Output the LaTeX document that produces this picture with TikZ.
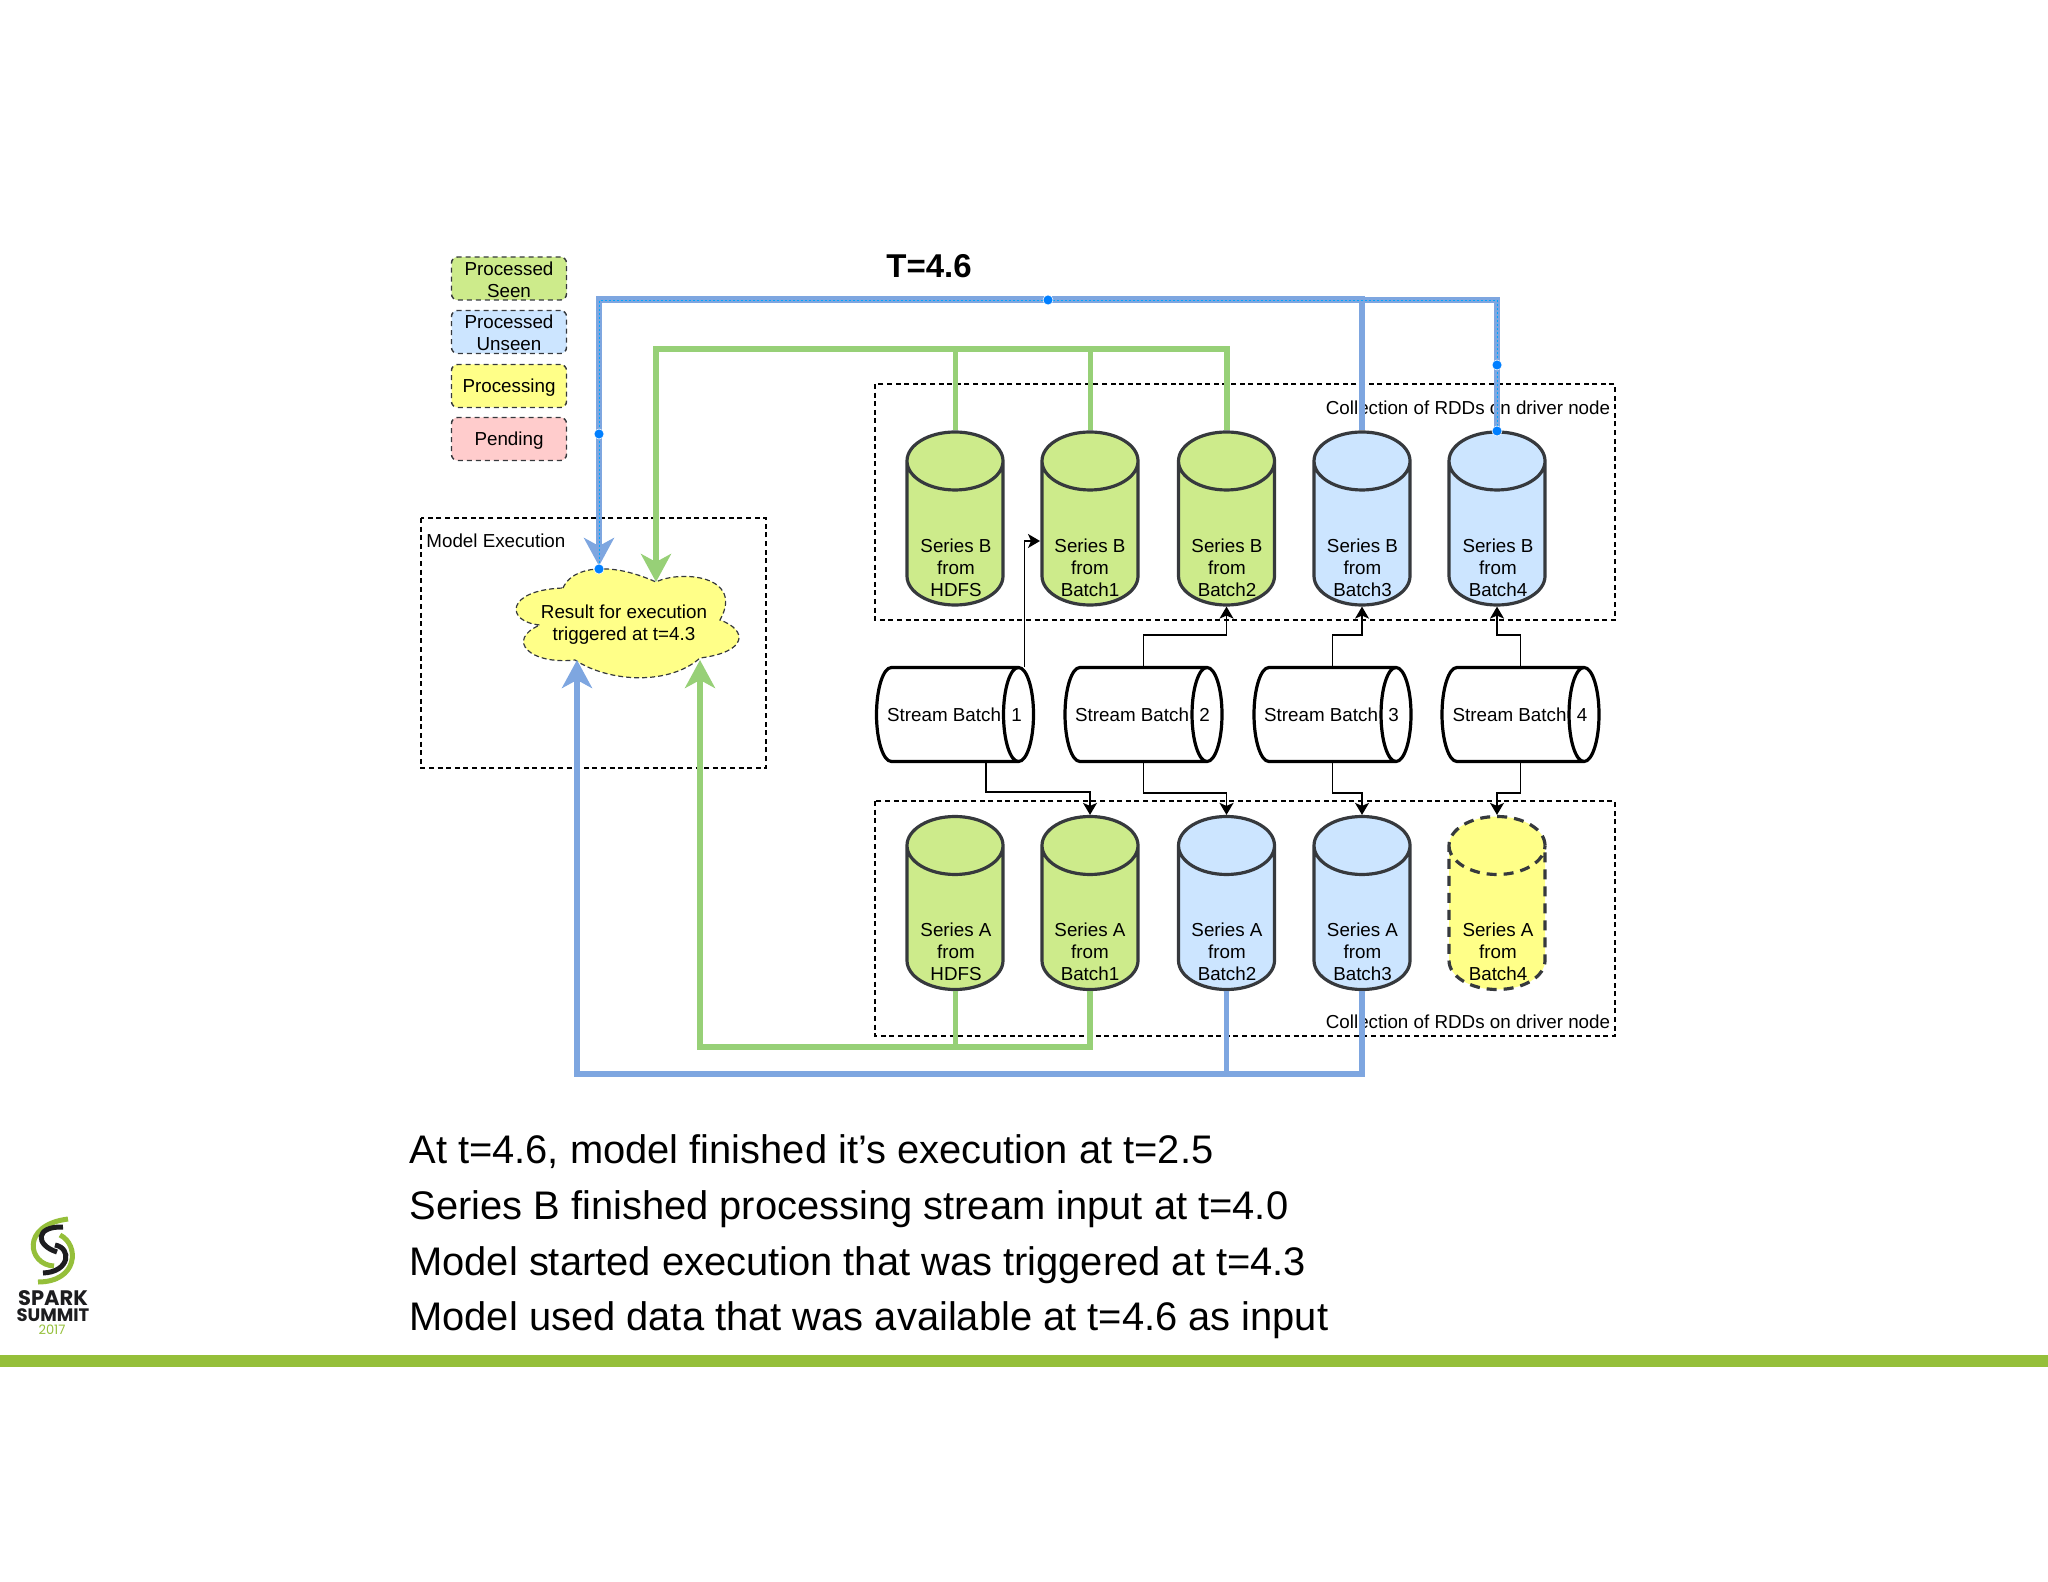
\documentclass[tikz,border=0pt]{standalone}
\usepackage{fontspec}
\setmainfont{Liberation Sans}
\newfontfamily\logofont{Poppins}
\usetikzlibrary{shapes.geometric,arrows.meta}

\definecolor{seenfill}{HTML}{CDEB8B}
\definecolor{unseenfill}{HTML}{CCE5FF}
\definecolor{procfill}{HTML}{FFFF88}
\definecolor{pendfill}{HTML}{FFCCCC}
\definecolor{edgegrey}{HTML}{36393D}
\definecolor{greenline}{HTML}{97D077}
\definecolor{blueline}{HTML}{7EA6E0}
\definecolor{pickblue}{HTML}{007FFF}
\definecolor{barcolor}{HTML}{95BF3A}
\definecolor{logodark}{HTML}{1D1D1F}

\tikzset{
    small/.style={inner sep=0pt,align=center,font=\fontsize{9.4}{11}\selectfont},
    legend/.style={small,rounded corners=3pt,draw=edgegrey,line width=0.7pt,
        dash pattern=on 2.5pt off 2pt,minimum width=57.5pt,minimum height=21.5pt},
    frame/.style={draw=black,line width=0.6pt,dash pattern=on 2.5pt off 1.8pt},
    rdd/.style={cylinder,shape border rotate=90,aspect=0.604,anchor=shape center,
        draw=edgegrey,line width=1.6pt,cylinder uses custom fill,inner sep=24pt,
        minimum width=48pt,minimum height=86.5pt},
    seen/.style={rdd,cylinder body fill=seenfill,cylinder end fill=seenfill},
    unseen/.style={rdd,cylinder body fill=unseenfill,cylinder end fill=unseenfill},
    running/.style={rdd,dash pattern=on 5pt off 3.5pt,cylinder body fill=procfill,cylinder end fill=procfill},
    batch/.style={cylinder,aspect=0.319,anchor=shape center,draw=black,line width=1.6pt,
        inner sep=23.5pt,minimum width=47pt,minimum height=78.5pt},
    link/.style={draw=black,line width=0.7pt,-{Stealth[length=6pt,width=7pt,inset=1.5pt]}},
    greenpipe/.style={draw=greenline,line width=3pt,line join=miter},
    bluepipe/.style={draw=blueline,line width=3pt,line join=miter},
    bighead/.style={-{Stealth[length=14pt,width=15pt,inset=4pt]}},
    picked/.style={draw=pickblue!70!cyan,line width=0.35pt,dash pattern=on 1pt off 1pt},
    pickdot/.style={circle,fill=pickblue,draw=white,line width=0.3pt,inner sep=0pt,minimum size=5pt},
    slidetext/.style={anchor=west,inner sep=0pt,font=\fontsize{19.94}{24}\selectfont},
}

\begin{document}
\begin{tikzpicture}[x=0.5pt,y=-0.5pt]
    \useasboundingbox (0,0) rectangle (2048,1582);

    % legend
    \node[legend,fill=seenfill,text height=18.7pt] (lseen) at (509,278.5) {Processed\\Seen};
    \node[legend,fill=unseenfill,text height=18.7pt] (lunseen) at (509,332) {Processed\\Unseen};
    \node[legend,fill=procfill,text height=8.7pt,text depth=1.9pt] (lproc) at (509,386) {Processing};
    \node[legend,fill=pendfill,text height=8.7pt,text depth=1.9pt] (lpend) at (509,439) {Pending};

    \node[inner sep=0pt,font=\fontsize{16.5}{20}\selectfont\bfseries] (title) at (929,266) {T=4.6};

    % dashed frames
    \draw[frame] (421,518) rectangle (766,768);
    \draw[frame] (875,384) rectangle (1615,620);
    \draw[frame] (875,801) rectangle (1615,1036);
    \node[small,anchor=west] (lmodel) at (426,541) {Model Execution};
    \node[small,anchor=east] (ltop) at (1610.5,408) {Collection of RDDs on driver node};
    \node[small,anchor=east] (lbot) at (1610.5,1022) {Collection of RDDs on driver node};

    % cloud
    \draw[fill=procfill,draw=edgegrey,line width=0.6pt,dash pattern=on 2.5pt off 1.5pt]
        (563,588) .. controls (570,572) and (590,569) .. (599,569)
        .. controls (620,568) and (640,575) .. (656,582)
        .. controls (680,570) and (745,575) .. (720,620)
        .. controls (748,630) and (748,652) .. (700,658)
        .. controls (670,685) and (610,683) .. (575,660)
        .. controls (530,665) and (505,640) .. (540,625)
        .. controls (505,622) and (505,590) .. (563,588) -- cycle;
    \node[small] (cloud) at (624,624.6) {Result for execution\\triggered at t=4.3};

    % series B
    \node[seen] (b0) at (955,518.5) {};
    \node[seen] (b1) at (1090,518.5) {};
    \node[seen] (b2) at (1226.5,518.5) {};
    \node[unseen] (b3) at (1362,518.5) {};
    \node[unseen] (b4) at (1497,518.5) {};
    \node[small] (b0t) at (956,568) {Series B\\from\\HDFS};
    \node[small] (b1t) at (1090,568) {Series B\\from\\Batch1};
    \node[small] (b2t) at (1227,568) {Series B\\from\\Batch2};
    \node[small] (b3t) at (1362.5,568) {Series B\\from\\Batch3};
    \node[small] (b4t) at (1498,568) {Series B\\from\\Batch4};

    % series A
    \node[seen] (a0) at (955,903) {};
    \node[seen] (a1) at (1090,903) {};
    \node[unseen] (a2) at (1226.5,903) {};
    \node[unseen] (a3) at (1362,903) {};
    \node[running] (a4) at (1497,903) {};
    \node[small] (a0t) at (956,952) {Series A\\from\\HDFS};
    \node[small] (a1t) at (1090,952) {Series A\\from\\Batch1};
    \node[small] (a2t) at (1227,952) {Series A\\from\\Batch2};
    \node[small] (a3t) at (1362.5,952) {Series A\\from\\Batch3};
    \node[small] (a4t) at (1498,952) {Series A\\from\\Batch4};

    % stream batches
    \node[batch] (s1) at (955,714.5) {};
    \node[batch] (s2) at (1143.5,714.5) {};
    \node[batch] (s3) at (1332.5,714.5) {};
    \node[batch] (s4) at (1520.5,714.5) {};
    \node[small] (s1t) at (954.5,715) {Stream Batch\ \ 1};
    \node[small] (s2t) at (1142.5,715) {Stream Batch\ \ 2};
    \node[small] (s3t) at (1331.5,715) {Stream Batch\ \ 3};
    \node[small] (s4t) at (1520,715) {Stream Batch\ \ 4};

    % thin arrows
    \coordinate (s1up) at (1024.7,667);
    \coordinate (s1down) at (986,762);
    \coordinate (b1side) at (1040,541);
    \draw[link] (s1up) |- (b1side);
    \draw[link] (s2.shape center |- s2.north) -- ++(0,-31) -| (b2.south);
    \draw[link] (s3.shape center |- s3.north) -- ++(0,-31) -| (b3.south);
    \draw[link] (s4.shape center |- s4.north) -- ++(0,-31) -| (b4.south);
    \draw[link] (s1down) -- ++(0,30) -| (a1.north);
    \draw[link] (s2.shape center |- s2.south) -- ++(0,30) -| (a2.north);
    \draw[link] (s3.shape center |- s3.south) -- ++(0,30) -| (a3.north);
    \draw[link] (s4.shape center |- s4.south) -- ++(0,30) -| (a4.north);

    % thick connectors
    \coordinate (gtop) at (656,349);
    \coordinate (gtip) at (656,582);
    \coordinate (glow) at (700,1047);
    \coordinate (gend) at (700,660);
    \coordinate (btop) at (599,299);
    \coordinate (btopb) at (599,300.5);
    \coordinate (btip) at (599,566);
    \coordinate (blow) at (577,1074);
    \coordinate (bend) at (577,660);
    \draw[greenpipe,line width=2.5pt] (b0.north) -- (b0.north |- gtop);
    \draw[greenpipe,line width=2.5pt] (b1.north) -- (b1.north |- gtop);
    \draw[greenpipe,bighead] (b2.north) |- (gtop) -- (gtip);
    \draw[bluepipe,bighead] (b3.north) |- (btop) -- (btip);
    \draw[bluepipe] (b4.north) |- (btopb) -- (btop);
    \draw[picked] (b4.north) |- (btopb) -- (btip);
    \draw[greenpipe,line width=2.5pt] (a0.south) -- (a0.south |- glow);
    \draw[greenpipe,bighead] (a1.south) |- (glow) -- (gend);
    \draw[bluepipe,line width=2.5pt] (a2.south) -- (a2.south |- blow);
    \draw[bluepipe,bighead] (a3.south) |- (blow) -- (bend);

    % handles on the picked edge
    \node[pickdot] (d1) at (599,434) {};
    \node[pickdot] (d2) at (1048,300) {};
    \node[pickdot] (d3) at (1497,365) {};
    \node[pickdot] (d4) at (1497,431) {};
    \node[pickdot] (d5) at (599,569) {};

    % slide text
    \node[slidetext] (t1) at (409,1151.5) {At t=4.6, model finished it’s execution at t=2.5};
    \node[slidetext] (t2) at (409,1209) {Series B finished processing stream input at t=4.0};
    \node[slidetext] (t3) at (409,1265) {Model started execution that was triggered at t=4.3};
    \node[slidetext] (t4) at (409,1320) {Model used data that was available at t=4.6 as input};

    % bottom bar and logo
    \fill[barcolor] (0,1355) rectangle (2048,1367);
    \draw[barcolor,line width=2.5pt] (68,1219) .. controls (20,1225) and (28,1265) .. (54,1266);
    \draw[barcolor,line width=2.5pt] (60,1235) .. controls (80,1245) and (78,1282) .. (38,1282);
    \draw[logodark,line width=2.5pt] (63,1227) .. controls (35,1226) and (35,1245) .. (57,1252);
    \draw[logodark,line width=2.5pt] (55,1245) .. controls (72,1248) and (70,1272) .. (43,1273);
    \node[inner sep=0pt,font=\logofont\bfseries\fontsize{10.5}{12}\selectfont,text=logodark] (lspark) at (53,1298) {SPARK};
    \node[inner sep=0pt,font=\logofont\bfseries\fontsize{9}{12}\selectfont,text=logodark] (lsummit) at (53,1315) {SUMMIT};
    \node[inner sep=0pt,font=\logofont\fontsize{6.5}{8}\selectfont,text=barcolor] (lyear) at (52,1330) {2017};
\end{tikzpicture}
\end{document}
